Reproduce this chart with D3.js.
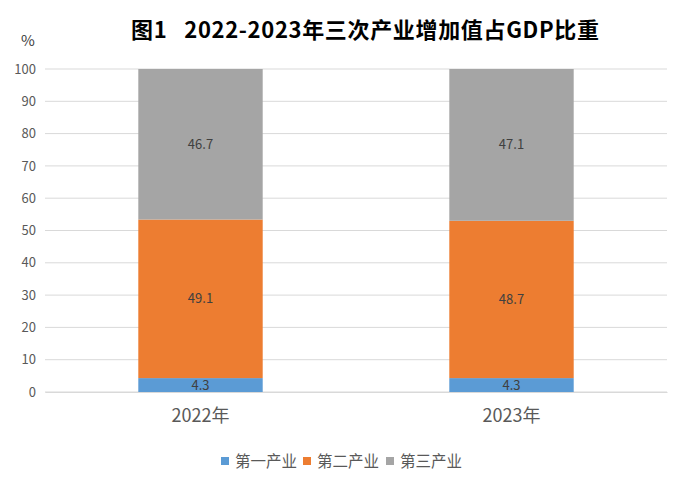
<!DOCTYPE html>
<html>
<head>
<meta charset="utf-8">
<script src="https://cdn.jsdelivr.net/npm/d3@7"></script>
<style>
body{margin:0;background:#fff;}
text{font-family:"Noto Sans CJK SC","Noto Sans",sans-serif;}
</style>
</head>
<body>
<script>
var years = ["2022年", "2023年"]
var seriesNames = ["第一产业", "第二产业", "第三产业"]
var primary = [4.3, 4.3]
var secondary = [49.1, 48.7]
var tertiary = [46.7, 47.1]
var yTicks = [0,10,20,30,40,50,60,70,80,90,100]
var colors = ["#5B9BD5", "#ED7D31", "#A5A5A5"]

var svg = d3.select("body").append("svg")
    .attr("width", 683)
    .attr("height", 482)

var x = d3.scaleBand().domain(years).range([45, 667]).paddingInner(0.6).paddingOuter(0.3)
var y = d3.scaleLinear().domain([0, 100]).range([392, 69])

// gridlines
svg.append("g").selectAll("line").data(yTicks).enter().append("line")
    .attr("x1", 45).attr("x2", 667)
    .attr("y1", function(d){ return y(d) }).attr("y2", function(d){ return y(d) })
    .attr("stroke", "#d9d9d9").attr("stroke-width", 1)

var yAxis = svg.append("g").attr("transform", "translate(36,0)")
    .call(d3.axisLeft(y).tickValues(yTicks).tickSize(0).tickPadding(0))
yAxis.select(".domain").remove()
yAxis.selectAll("text").attr("fill", "#595959").style("font-size", "13px")

svg.append("text").attr("x", 28).attr("y", 46).attr("text-anchor", "middle")
    .attr("fill", "#404040").style("font-size", "15px").text("%")

svg.append("text").attr("x", 365).attr("y", 38).attr("text-anchor", "middle")
    .attr("fill", "#000").style("font-size", "22px").style("font-weight", "bold")
    .style("white-space", "pre").attr("textLength", 468)
    .text("图1   2022-2023年三次产业增加值占GDP比重")

var table = []
var all = [primary, secondary, tertiary]
for (var i = 0; i < years.length; i++) {
    var base = 0
    for (var j = 0; j < all.length; j++) {
        var segTop = Math.min(100, base + all[j][i])
        table.push({year: years[i], s: j, v: all[j][i], y0: base, y1: segTop})
        base = base + all[j][i]
    }
}

svg.append("g").selectAll("rect").data(table).enter().append("rect")
    .attr("x", function(d){ return x(d.year) })
    .attr("width", x.bandwidth())
    .attr("y", function(d){ return y(d.y1) })
    .attr("height", function(d){ return y(d.y0) - y(d.y1) })
    .attr("fill", function(d){ return colors[d.s] })

svg.append("g").selectAll("text").data(table).enter().append("text")
    .attr("x", function(d){ return x(d.year) + x.bandwidth()/2 })
    .attr("y", function(d){ return (y(d.y0) + y(d.y1))/2 + 4.5 })
    .attr("text-anchor", "middle").attr("fill", "#404040").style("font-size", "13px")
    .text(function(d){ return d.v.toFixed(1) })

var xAxis = svg.append("g").attr("transform", "translate(0,392)")
    .call(d3.axisBottom(x).tickSize(0).tickPadding(17))
xAxis.select(".domain").attr("stroke", "#d9d9d9")
xAxis.selectAll("text").attr("fill", "#595959").style("font-size", "18px")

var legendX = [221, 303, 386]
var lg = svg.append("g").selectAll("g").data(seriesNames).enter().append("g")
    .attr("transform", function(d, i){ return "translate(" + legendX[i] + ",454)" })
lg.append("rect").attr("width", 8).attr("height", 8).attr("y", 3)
    .attr("fill", function(d, i){ return colors[i] })
lg.append("text").attr("x", 14).attr("y", 13).attr("fill", "#595959")
    .style("font-size", "15.5px").text(function(d){ return d })
</script>
</body>
</html>
